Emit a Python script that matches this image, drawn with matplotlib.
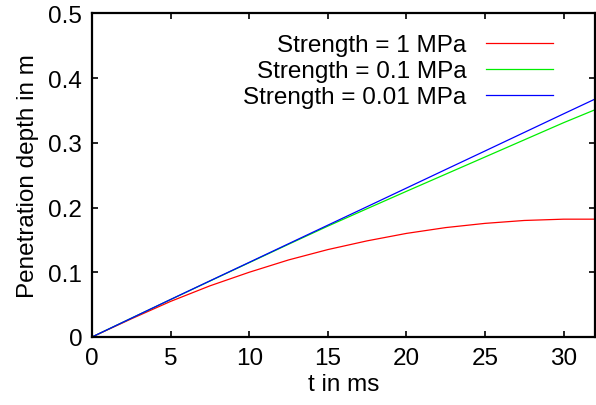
import matplotlib.pyplot as plt
from matplotlib.ticker import FuncFormatter

plt.rcParams['font.family'] = ['Liberation Sans', 'DejaVu Sans']

# values
t_ms = [0, 2.5, 5, 7.5, 10, 12.5, 15, 17.5, 20, 22.5, 25, 27.5, 30, 32]
depth_1mpa = [0, 0.028, 0.055, 0.079, 0.100, 0.119, 0.135, 0.1485, 0.160,
              0.169, 0.1755, 0.180, 0.182, 0.182]
depth_01mpa = [0, 0.0290, 0.0578, 0.0864, 0.1148, 0.1432, 0.1712, 0.1982,
               0.2250, 0.2515, 0.2780, 0.3045, 0.3310, 0.3510]
depth_001mpa = [0, 0.0290, 0.0580, 0.0867, 0.1153, 0.1440, 0.1727, 0.2013,
                0.2300, 0.2587, 0.2873, 0.3160, 0.3447, 0.3675]
labels = ["Strength = 1 MPa", "Strength = 0.1 MPa", "Strength = 0.01 MPa"]

fig = plt.figure(figsize=(5.96, 4.06), dpi=100)
ax = fig.add_axes([92 / 596, 1 - 338 / 406, 503 / 596, (338 - 14.3) / 406])

ax.plot(t_ms, depth_1mpa, color='#ff0000', lw=0.9, label=labels[0])
ax.plot(t_ms, depth_01mpa, color='#00ee00', lw=0.9, label=labels[1])
ax.plot(t_ms, depth_001mpa, color='#0000ff', lw=0.9, label=labels[2])

ax.set_xlim(0, 32)
ax.set_ylim(0, 0.5)
ax.set_xticks([0, 5, 10, 15, 20, 25, 30])
ax.set_yticks([0, 0.1, 0.2, 0.3, 0.4, 0.5])
ax.yaxis.set_major_formatter(FuncFormatter(lambda v, p: '%g' % v))
ax.tick_params(direction='in', top=True, right=True, length=4.5, width=1.2,
               labelsize=17.5, pad=7)
for s in ax.spines.values():
    s.set_linewidth(1.6)

ax.set_xlabel("t in ms", fontsize=17.5, labelpad=3)
ax.set_ylabel("Penetration depth in m", fontsize=17.5, labelpad=7)

ax.legend(loc='upper right', frameon=False, markerfirst=False, fontsize=17.5,
          handlelength=2.75, handletextpad=0.8, labelspacing=0.17,
          borderpad=0, borderaxespad=0,
          bbox_to_anchor=(553 / 596, 1 - 35 / 406), bbox_transform=fig.transFigure)

fig.savefig("out.png", dpi=100)
